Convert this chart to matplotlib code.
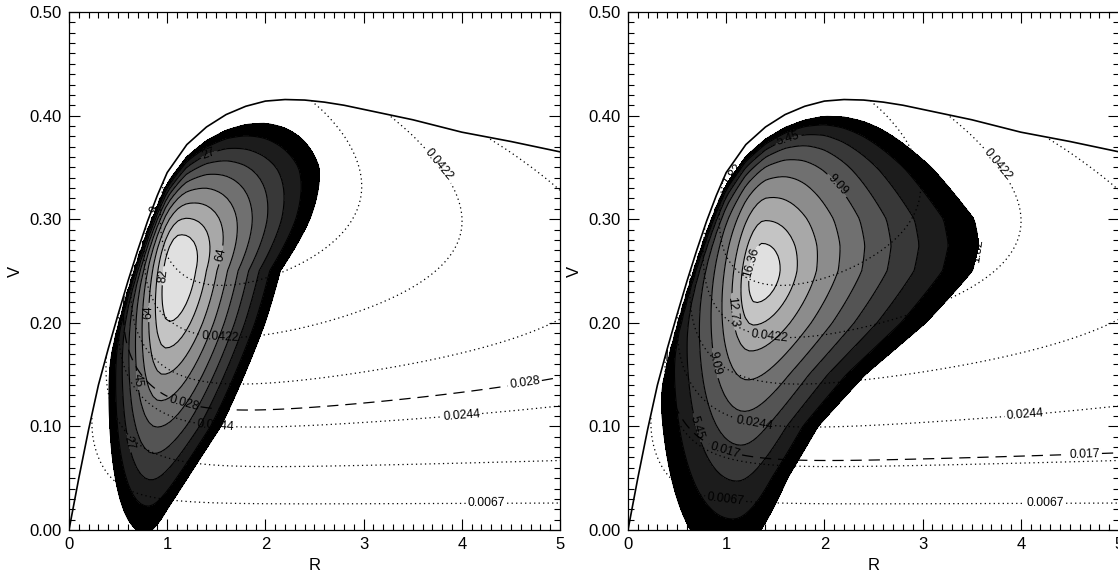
import numpy as np
import matplotlib
matplotlib.use('Agg')
import matplotlib.pyplot as plt
from matplotlib.ticker import MultipleLocator, FormatStrFormatter

plt.rcParams['font.family'] = ['Liberation Sans', 'DejaVu Sans']

# circular velocity curve (solid line)
vc_r = [0.0, 0.1, 0.2, 0.3, 0.4, 0.5, 0.6, 0.7, 0.8, 0.9, 1.0, 1.2, 1.4, 1.6,
        1.8, 2.0, 2.2, 2.4, 2.6, 2.8, 3.0, 3.5, 4.0, 4.5, 5.0]
vc_v = [0.0, 0.05, 0.097, 0.14, 0.175, 0.208, 0.24, 0.27, 0.298, 0.323, 0.345,
        0.372, 0.389, 0.401, 0.409, 0.414, 0.4155, 0.415, 0.413, 0.41, 0.406,
        0.396, 0.384, 0.375, 0.365]

# dotted background field (same in both panels)
dot_plain = [0.0156, 0.0333, 0.0511]
dot_labelled = [0.0067, 0.0244, 0.0422]
bg_k, bg_alpha = 0.275, 0.5           # rise with V, fall with V*R
bg_beta0, bg_beta1, bg_n = 0.2, 0.02, 5.76   # drop close to the curve
bg_ra, bg_pa = 0.6, 1.2               # drop towards R = 0

# dashed level of each panel
dash_left = 0.028
dash_right = 0.017

# filled distributions: contour step, centre, shear, widths, profile power
left_step = 9.09
left_centre = (1.08, 0.252)
left_shear = 1.2
left_sRL, left_sVD, left_sVU = 0.66, 0.28, 0.2
left_sRR_v = [0.0, 0.02, 0.1, 0.2, 0.25, 0.3, 0.35, 0.4]
left_sRR = [0.5, 0.53, 0.89, 1.10, 1.18, 1.5, 1.78, 1.9]
left_q = 1.0

right_step = 1.818
right_centre = (1.33, 0.247)
right_shear = 1.1
right_sRL, right_sVD, right_sVU = 1.1, 0.315, 0.35
right_sRR_v = [0.0, 0.05, 0.1, 0.15, 0.2, 0.25, 0.275, 0.3, 0.35, 0.4, 0.45]
right_sRR = [0.77, 0.84, 1.04, 1.46, 2.04, 2.49, 2.55, 2.49, 2.04, 1.46, 1.04]
right_q = 0.7

taper_gap, taper_w = 0.02, 0.05
greys = [0, 28, 56, 84, 112, 140, 168, 196, 224]

# label spots
left_blob_lab = [(0.83, 0.31), (1.45, 0.355), (1.57, 0.265), (1.0, 0.245),
                 (0.8, 0.21), (0.75, 0.145), (0.65, 0.085)]
right_blob_lab = [(0.85, 0.36), (1.65, 0.37), (2.1, 0.33), (1.2, 0.26),
                  (1.0, 0.21), (0.84, 0.16), (0.75, 0.1), (3.55, 0.27)]
left_dot_lab = [(3.85, 0.36), (1.55, 0.2), (4.0, 0.107), (1.5, 0.11), (4.25, 0.027)]
right_dot_lab = [(3.85, 0.36), (1.45, 0.195), (4.05, 0.105), (1.3, 0.11),
                 (4.25, 0.027), (1.0, 0.035)]
left_dash_lab = [(4.65, 0.135), (1.2, 0.135)]
right_dash_lab = [(4.65, 0.073), (1.0, 0.08)]

DOT = [(0, (1, 2.6))]
DASH = [(0, (9, 5.5))]
LABEL_SIZE = 12
CLABEL_SIZE = 8.8


def blob(R, V, Vc, step, centre, shear, sRL, sVD, sVU, sRR_v, sRR, q):
    R0, V0 = centre
    dV = V - V0
    dR = R - (R0 + shear * dV)
    sR = np.where(dR < 0, sRL, np.interp(V, sRR_v, sRR))
    sV = np.where(dV < 0, sVD, sVU)
    r = np.hypot(dR / sR, dV / sV)
    taper = 1 - np.exp(-np.clip(1 - V / Vc - taper_gap, 0, None) / taper_w)
    return 11 * step * np.clip(1 - r ** q, 0, None) * taper


def background(R, V, Vc):
    u = V / Vc
    beta = bg_beta0 + bg_beta1 * R
    f = bg_k * V * np.exp(-bg_alpha * V * R) * (1 - beta * u ** bg_n)
    return f * (1 - np.exp(-(R / bg_ra) ** bg_pa))


def panel(ax, step, blob_args, blob_fmt, blob_lab, dash, dash_lab, dot_lab):
    # filled distribution
    R, V = np.meshgrid(np.linspace(0.02, 5, 120), np.linspace(-0.05, 0.5, 120))
    Vc = np.interp(R, vc_r, vc_v)
    D = blob(R, V, Vc, *blob_args)
    lev = [step * k for k in range(1, 10)]
    cols = [str(g / 255) for g in greys]
    ax.contourf(R, V, D, levels=lev + [step * 40], colors=cols, zorder=1)
    ax.contour(R, V, D, levels=lev[1::2], colors='k', linewidths=0.8, zorder=2)
    cl = ax.contour(R, V, D, levels=lev[::2], colors='k', linewidths=0.8, zorder=2)
    ax.clabel(cl, fmt=blob_fmt, manual=blob_lab,
              inline=True, fontsize=CLABEL_SIZE, inline_spacing=2)

    # dotted and dashed background contours
    R, V = np.meshgrid(np.linspace(0.005, 5, 500), np.linspace(0.0, 0.5, 500))
    Vc = np.interp(R, vc_r, vc_v)
    F = np.ma.masked_where(V > Vc, background(R, V, Vc))
    ax.contour(R, V, F, levels=dot_plain, colors='k', linewidths=0.9,
               linestyles=DOT, zorder=3)
    cd = ax.contour(R, V, F, levels=dot_labelled, colors='k', linewidths=0.9,
                    linestyles=DOT, zorder=3)
    ax.clabel(cd, fmt=lambda v: '%g' % v, manual=dot_lab,
              inline=True, fontsize=CLABEL_SIZE, inline_spacing=2)
    cs = ax.contour(R, V, F, levels=[dash], colors='k', linewidths=0.9,
                    linestyles=DASH, zorder=3)
    ax.clabel(cs, fmt=lambda v: '%g' % v, manual=dash_lab,
              inline=True, fontsize=CLABEL_SIZE, inline_spacing=2)

    ax.plot(vc_r, vc_v, color='k', lw=1.2, zorder=4)

    ax.set_xlim(0, 5)
    ax.set_ylim(0, 0.5)
    ax.xaxis.set_major_locator(MultipleLocator(1))
    ax.xaxis.set_minor_locator(MultipleLocator(0.1))
    ax.yaxis.set_major_locator(MultipleLocator(0.1))
    ax.yaxis.set_minor_locator(MultipleLocator(0.01))
    ax.yaxis.set_major_formatter(FormatStrFormatter('%.2f'))
    ax.tick_params(which='both', direction='in', top=True, right=True,
                   labelsize=LABEL_SIZE, width=0.8, pad=5)
    ax.tick_params(which='major', length=8)
    ax.tick_params(which='minor', length=4)
    for s in ax.spines.values():
        s.set_linewidth(0.9)
    ax.set_xlabel('R', fontsize=LABEL_SIZE)
    ax.set_ylabel('V', fontsize=LABEL_SIZE)
    ax.xaxis.set_label_coords(0.5, -0.055)
    ax.yaxis.set_label_coords(-0.094, 0.5)


fig = plt.figure(figsize=(11.18, 5.74), dpi=100)
ax1 = fig.add_axes([0.0617, 0.0767, 0.4392, 0.9024])
ax2 = fig.add_axes([0.5617, 0.0767, 0.4392, 0.9024])

panel(ax1, left_step,
      (left_step, left_centre, left_shear, left_sRL, left_sVD, left_sVU,
       left_sRR_v, left_sRR, left_q),
      lambda v: '%d' % round(v), left_blob_lab, dash_left, left_dash_lab,
      left_dot_lab)
panel(ax2, right_step,
      (right_step, right_centre, right_shear, right_sRL, right_sVD, right_sVU,
       right_sRR_v, right_sRR, right_q),
      lambda v: '%.2f' % v, right_blob_lab, dash_right, right_dash_lab,
      right_dot_lab)

fig.savefig('out.png', dpi=100)
